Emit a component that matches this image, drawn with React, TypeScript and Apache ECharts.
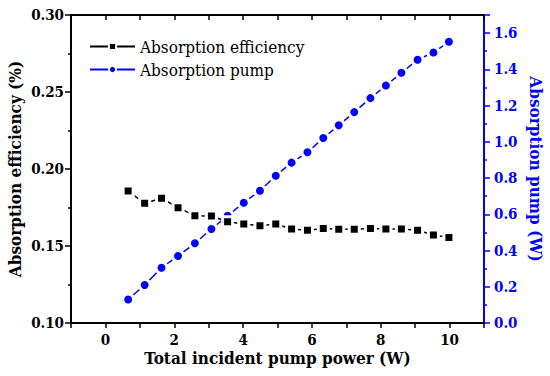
import React, { useEffect, useRef } from "react";
import * as echarts from "echarts";

const pumpPower = [0.66, 1.14, 1.63, 2.11, 2.6, 3.08, 3.55, 4.02, 4.49, 4.95, 5.41, 5.87, 6.33, 6.78, 7.23, 7.7, 8.15, 8.6, 9.07, 9.53, 9.98];
const efficiency = [0.1857, 0.1777, 0.181, 0.1749, 0.1697, 0.1695, 0.1658, 0.1643, 0.1632, 0.1643, 0.161, 0.1602, 0.1613, 0.1608, 0.1608, 0.1613, 0.161, 0.161, 0.1602, 0.1571, 0.1556];
const absorbedPump = [0.13, 0.21, 0.305, 0.37, 0.44, 0.519, 0.592, 0.664, 0.73, 0.813, 0.885, 0.942, 1.021, 1.091, 1.164, 1.241, 1.311, 1.381, 1.453, 1.493, 1.552];

const FONT = "DejaVu Serif Condensed, DejaVu Serif";
const BLUE = "#0000ff";
const FS = 17;
const TS = 15;

export default function App() {
  const ref = useRef<HTMLDivElement>(null);
  useEffect(() => {
    if (!ref.current) return;
    const chart = echarts.init(ref.current, null, { renderer: "svg" });
    const effData = pumpPower.map((x, i) => [x, efficiency[i]]);
    const pumpData = pumpPower.map((x, i) => [x, absorbedPump[i]]);
    chart.setOption({
      animation: false,
      backgroundColor: "#fff",
      textStyle: { fontFamily: FONT },
      grid: { left: 71, right: 66, top: 15, bottom: 53, containLabel: false, outerBoundsMode: "none" },
      legend: {
        orient: "vertical",
        left: 84,
        top: 33,
        itemWidth: 45,
        itemHeight: 9,
        itemGap: 6,
        textStyle: { fontFamily: FONT, fontSize: FS, color: "#000" },
        data: ["Absorption efficiency", "Absorption pump"],
      },
      xAxis: [
        {
          type: "value",
          position: "bottom",
          min: -1,
          max: 11,
          interval: 1,
          name: "Total incident pump power (W)",
          nameLocation: "middle",
          nameGap: 26,
          nameMoveOverlap: false,
          nameTextStyle: { fontFamily: FONT, fontSize: FS, fontWeight: "bold", color: "#000" },
          axisLine: { show: true, onZero: false, lineStyle: { color: "#000", width: 2 } },
          axisTick: { inside: false, length: 5, lineStyle: { color: "#000", width: 1.5 } },
          axisLabel: {
            fontFamily: FONT,
            fontSize: TS,
            fontWeight: "bold",
            color: "#000",
            margin: 9,
            formatter: (v: number) => (Math.round(v) % 2 === 0 && v >= 0 && v <= 10 ? String(Math.round(v)) : ""),
          },
          splitLine: { show: false },
        },
        {
          type: "value",
          position: "top",
          min: -1,
          max: 11,
          interval: 1,
          axisLine: { show: true, onZero: false, lineStyle: { color: "#000", width: 2 } },
          axisTick: { inside: true, length: 5, lineStyle: { color: "#000", width: 1.5 } },
          axisLabel: { show: false },
          splitLine: { show: false },
        },
      ],
      yAxis: [
        {
          type: "value",
          position: "left",
          min: 0.1,
          max: 0.3,
          interval: 0.05,
          name: "Absorption efficiency (%)",
          nameLocation: "middle",
          nameGap: 48,
          nameMoveOverlap: false,
          nameTextStyle: { fontFamily: FONT, fontSize: FS, fontWeight: "bold", color: "#000" },
          axisLine: { show: true, onZero: false, lineStyle: { color: "#000", width: 2 } },
          axisTick: { inside: false, length: 6, lineStyle: { color: "#000", width: 1.5 } },
          minorTick: { show: true, splitNumber: 2, length: 3, lineStyle: { color: "#000", width: 1.5 } },
          axisLabel: {
            fontFamily: FONT,
            fontSize: TS,
            fontWeight: "bold",
            color: "#000",
            margin: 7,
            formatter: (v: number) => v.toFixed(2),
          },
          splitLine: { show: false },
        },
        {
          type: "value",
          position: "right",
          min: 0,
          max: 1.7,
          interval: 0.2,
          name: "Absorption pump (W)",
          nameLocation: "middle",
          nameRotate: -90,
          nameGap: 43,
          nameMoveOverlap: false,
          nameTextStyle: { fontFamily: FONT, fontSize: FS, fontWeight: "bold", color: BLUE },
          axisLine: { show: true, onZero: false, lineStyle: { color: BLUE, width: 2 } },
          axisTick: { inside: false, length: 6, lineStyle: { color: BLUE, width: 1.5 } },
          minorTick: { show: true, splitNumber: 2, length: 3, lineStyle: { color: BLUE, width: 1.5 } },
          axisLabel: {
            fontFamily: FONT,
            fontSize: TS,
            fontWeight: "bold",
            color: BLUE,
            margin: 10,
            showMaxLabel: false,
            formatter: (v: number) => (v > 1.65 ? "" : v.toFixed(1)),
          },
          splitLine: { show: false },
        },
      ],
      series: [
        {
          name: "Absorption efficiency",
          type: "line",
          xAxisIndex: 0,
          yAxisIndex: 0,
          data: effData,
          symbol: "rect",
          symbolSize: 10,
          lineStyle: { color: "#000", width: 1.5 },
          itemStyle: { color: "#000", borderColor: "#fff", borderWidth: 3 },
          z: 3,
        },
        {
          name: "Absorption pump",
          type: "line",
          xAxisIndex: 0,
          yAxisIndex: 1,
          data: pumpData,
          symbol: "circle",
          symbolSize: 11,
          lineStyle: { color: BLUE, width: 1.5 },
          itemStyle: { color: BLUE, borderColor: "#fff", borderWidth: 3 },
          z: 2,
        },
      ],
    });
    return () => chart.dispose();
  }, []);
  return <div ref={ref} style={{ position: "fixed", left: 0, top: 0, width: 550, height: 376 }} />;
}
